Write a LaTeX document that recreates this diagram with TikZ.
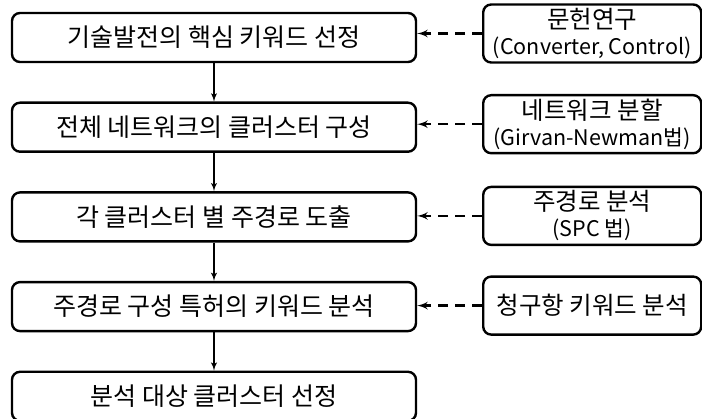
\documentclass[tikz,border=0pt]{standalone}
\usepackage{fontspec}
\setmainfont{Noto Sans CJK KR}
\usepackage{tikz}
\usetikzlibrary{arrows,positioning}
\tikzstyle{stage}=[draw, line width=2.4pt, rounded corners=8pt, text centered,
  minimum width=404pt, minimum height=49pt, inner sep=0pt,
  font=\fontsize{25}{28}\selectfont]
\tikzstyle{method}=[stage, minimum width=218pt, minimum height=58pt,
  align=center, font=\fontsize{24.5}{27}\selectfont]
\tikzstyle{line}=[draw, line width=1.8pt, -latex']
\tikzstyle{feed}=[line, line width=2.6pt, dash pattern=on 10pt off 7pt]
\newcommand{\stage}[2]{node (p#1)[stage]{#2}}
\newcommand{\method}[2]{node (m#1)[method]{#2}}
\newcommand{\eng}[1]{{\fontsize{21.5}{27}\selectfont #1}}

\begin{document}
\begin{tikzpicture}
  \useasboundingbox (0,0) rectangle (702pt,-419pt);

  % Draw main steps
  \path (214pt,-37.5pt) \stage{1}{기술발전의 핵심 키워드 선정};
  \path (p1.south)+(0,-64pt) \stage{2}{전체 네트워크의 클러스터 구성};
  \path (p2.south)+(0,-64pt) \stage{3}{각 클러스터 별 주경로 도출};
  \path (p3.south)+(0,-64pt) \stage{4}{주경로 구성 특허의 키워드 분석};
  \path (p4.south)+(0,-64pt) \stage{5}{분석 대상 클러스터 선정};

  % Draw methods
  \path (p1.east)+(175pt,4pt) \method{1}{문헌연구\\[-1pt]\eng{(Converter, Control)}};
  \path (p2.east)+(175pt,3pt) \method{2}{네트워크 분할\\[-1pt]\eng{(Girvan-Newman법)}};
  \path (p3.east)+(175pt,1pt) \method{3}{주경로 분석\\[-1pt]\eng{(SPC 법)}};
  \path (p4.east)+(175pt,1pt) \method{4}{청구항 키워드 분석};

  % Draw arrows
  \path [line] (p1) -- (p2);
  \path [line] (p2) -- (p3);
  \path [line] (p3) -- (p4);
  \path [line] (p4) -- (p5);

  \path [feed] (m1.west) -- (m1.west -| p1.east);
  \path [feed] (m2.west) -- (m2.west -| p2.east);
  \path [feed] (m3.west) -- (m3.west -| p3.east);
  \path [feed] (m4.west) -- (m4.west -| p4.east);

\end{tikzpicture}
\end{document}
